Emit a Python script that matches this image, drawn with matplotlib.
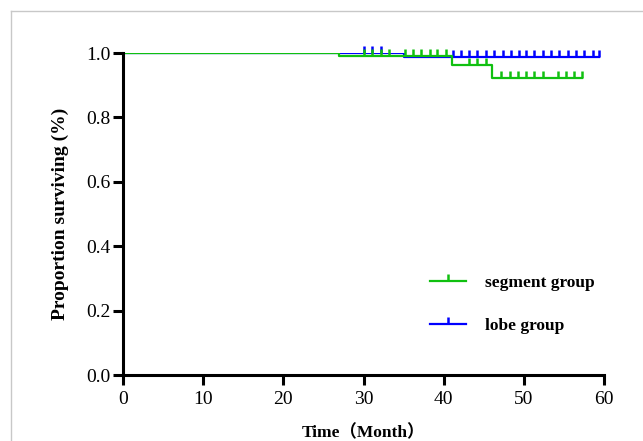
import numpy as np
import matplotlib
matplotlib.use("Agg")
import matplotlib.pyplot as plt
from matplotlib.lines import Line2D

# Kaplan-Meier steps
seg_t = [0, 27, 41, 46, 57.3]
seg_s = [1.0, 0.991, 0.963, 0.922, 0.922]
seg_cens = [30.1, 31.1, 32.2, 33.2, 35.2, 36.2, 37.2, 38.3, 39.2, 40.3,
            43.2, 44.2, 45.3, 47.2, 48.3, 49.3, 50.3, 51.3, 52.4,
            54.2, 55.3, 56.3, 57.3]

lobe_t = [0, 35, 59.4]
lobe_s = [1.0, 0.988, 0.988]
lobe_cens = [30.1, 31.1, 32.2, 41.2, 42.2, 43.2, 44.2, 45.3, 46.3, 47.4,
             48.4, 49.4, 50.3, 51.3, 52.4, 53.4, 54.4, 55.5, 56.5, 57.5,
             58.6, 59.4]

xticks = [0, 10, 20, 30, 40, 50, 60]
yticks = [0.0, 0.2, 0.4, 0.6, 0.8, 1.0]

GREEN = '#10c010'
BLUE = '#0000ff'
serif = ['Liberation Serif', 'DejaVu Serif']


def surv_at(times, surv, pts):
    idx = np.searchsorted(times, pts, side='right') - 1
    return np.array(surv)[idx]


fig = plt.figure(figsize=(6.43, 4.41), dpi=100)
ax = fig.add_axes([123/643, (441-375)/441, 481/643, 322/441])

# blue first so the green sits on top, as in the original
for t, s, c, col in [(lobe_t, lobe_s, lobe_cens, BLUE), (seg_t, seg_s, seg_cens, GREEN)]:
    ax.step(t, s, where='post', color=col, lw=1.6)
    ax.plot(c, surv_at(t, s, c), ls='none', marker=2, ms=5, mew=1.8,
            color=col, clip_on=False)

ax.set_xlim(0, 60)
ax.set_ylim(0, 1.0)
ax.set_xticks(xticks)
ax.set_yticks(yticks)
ax.set_yticklabels(['%.1f' % v for v in yticks])
for sp in ['top', 'right']:
    ax.spines[sp].set_visible(False)
for sp in ['left', 'bottom']:
    ax.spines[sp].set_linewidth(2.2)
ax.tick_params(width=2.2, length=7.5, labelsize=14)
ax.tick_params(axis='x', pad=4)
ax.tick_params(axis='y', pad=1.5)
for lab in ax.get_xticklabels() + ax.get_yticklabels():
    lab.set_family(serif)

ax.set_xlabel('Time（Month）', family=['Liberation Serif', 'Noto Sans CJK SC'],
              fontsize=12.5, fontweight='bold', labelpad=12)
ax.set_ylabel('Proportion surviving (%)', family=serif, fontsize=14,
              fontweight='bold', labelpad=12)

handles = [Line2D([], [], color=GREEN, lw=1.6, marker=2, ms=5, mew=1.8),
           Line2D([], [], color=BLUE, lw=1.6, marker=2, ms=5, mew=1.8)]
ax.legend(handles, ['segment group', 'lobe group'], loc='upper left',
          bbox_to_anchor=(0.638, 0.31), frameon=False, borderpad=0,
          borderaxespad=0, handlelength=2.1, handletextpad=1.1,
          labelspacing=1.55, prop={'family': serif, 'weight': 'bold', 'size': 12.5})

# light frame around the picture
fig.add_artist(Line2D([11/643, 11/643], [0, 1 - 11/441], color='#c8c8c8', lw=1))
fig.add_artist(Line2D([11/643, 1], [1 - 11/441, 1 - 11/441], color='#c8c8c8', lw=1))

fig.savefig('out.png', dpi=100)
